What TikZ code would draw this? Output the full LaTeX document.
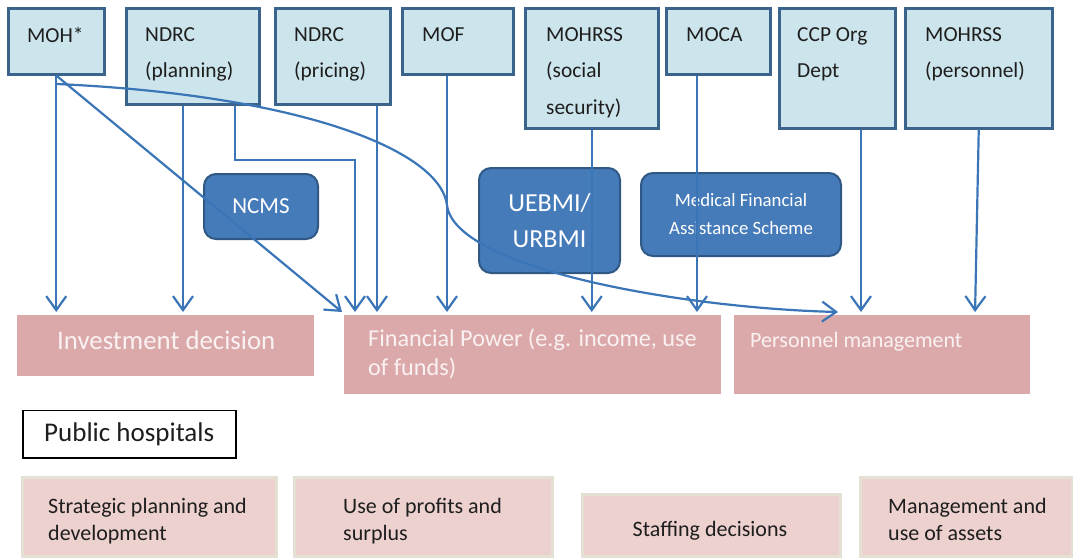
\documentclass[tikz,border=0pt]{standalone}
\usepackage{fontspec}
\setmainfont{Carlito}
\usetikzlibrary{arrows.meta,calc}
\definecolor{topfill}{RGB}{204,228,235}
\definecolor{topborder}{RGB}{59,100,140}
\definecolor{schemefill}{RGB}{70,123,186}
\definecolor{schemeborder}{RGB}{48,88,132}
\definecolor{arrowblue}{RGB}{58,117,183}
\definecolor{midpink}{RGB}{219,169,170}
\definecolor{midtext}{RGB}{250,242,242}
\definecolor{botpink}{RGB}{236,209,207}
\definecolor{botborder}{RGB}{228,224,212}
\definecolor{txtdark}{RGB}{30,30,30}
\begin{document}
\begin{tikzpicture}[x=1pt,y=-1pt,
  topbox/.style={draw=topborder,line width=2.5pt,fill=topfill,anchor=north west,inner sep=0pt},
  toptxt/.style={font=\fontsize{21.4}{36.5}\selectfont,text=txtdark,align=left,anchor=north west,inner sep=0pt},
  schemebox/.style={draw=schemeborder,line width=2pt,fill=schemefill,rounded corners=12pt,anchor=north west,inner sep=0pt,text=white,align=center},
  midbox/.style={fill=midpink,anchor=north west,inner sep=0pt},
  midtxt/.style={text=midtext,align=left,inner sep=0pt},
  botbox/.style={draw=botborder,line width=3pt,fill=botpink,anchor=north west,inner sep=0pt},
  bottxt/.style={font=\fontsize{22}{27}\selectfont,text=txtdark,align=left,inner sep=0pt},
  arr/.style={draw=arrowblue,line width=2.2pt,-{Straight Barb[length=14pt,width=20pt]}},
  arrv/.style={arr,shorten >=3pt}]
\useasboundingbox[fill=white] (0,0) rectangle (1073,558);

% top boxes
\node[topbox,minimum width=96pt,minimum height=66pt] (moh) at (7,7) {};
\node[topbox,minimum width=133pt,minimum height=96pt] (ndrcp) at (125,7) {};
\node[topbox,minimum width=115pt,minimum height=96pt] (ndrcr) at (274,7) {};
\node[topbox,minimum width=111pt,minimum height=66pt] (mof) at (401,7) {};
\node[topbox,minimum width=133pt,minimum height=120pt] (mohs) at (524,7) {};
\node[topbox,minimum width=104pt,minimum height=66pt] (moca) at (665,7) {};
\node[topbox,minimum width=116pt,minimum height=120pt] (ccp) at (778,7) {};
\node[topbox,minimum width=147pt,minimum height=120pt] (mohp) at (904,7) {};

\node[toptxt] (mohT) at (27,27) {MOH*};
\node[toptxt] (ndrcpT) at (145,27) {NDRC\\(planning)};
\node[toptxt] (ndrcrT) at (294,27) {NDRC\\(pricing)};
\node[toptxt] (mofT) at (422,27) {MOF};
\node[toptxt] (mohsT) at (546,27) {MOHRSS\\(social\\security)};
\node[toptxt] (mocaT) at (686,27) {MOCA};
\node[toptxt] (ccpT) at (797,27) {CCP Org\\Dept};
\node[toptxt] (mohpT) at (925,27) {MOHRSS\\(personnel)};

% middle boxes
\node[midbox,minimum width=297pt,minimum height=61pt] (inv) at (17,315) {};
\node[midbox,minimum width=377pt,minimum height=79pt] (fp) at (344,315) {};
\node[midbox,minimum width=296pt,minimum height=79pt] (pm) at (734,315) {};
\node[midtxt,font=\fontsize{26.8}{30}\selectfont,anchor=base west] (invT) at (57,349) {Investment decision};
\node[midtxt,font=\fontsize{24.2}{29}\selectfont,anchor=north west] (fpT) at (368,329) {Financial Power (e.g. income, use\\of funds)};
\node[midtxt,font=\fontsize{22}{27}\selectfont,anchor=base west] (pmT) at (750,347.5) {Personnel management};

% public hospitals
\node[draw=black,line width=1.5pt,fill=white,anchor=north west,inner sep=0pt,minimum width=213pt,minimum height=47.5pt,font=\fontsize{27}{30}\selectfont,text=txtdark] (ph) at (22,409.5) {Public hospitals};

% bottom boxes
\node[botbox,minimum width=254pt,minimum height=79pt] (sp) at (21,476) {};
\node[botbox,minimum width=258pt,minimum height=79pt] (up) at (293,476) {};
\node[botbox,minimum width=258pt,minimum height=62pt] (sd) at (581,493) {};
\node[botbox,minimum width=212pt,minimum height=79pt] (ma) at (859,476) {};
\node[bottxt,anchor=north west] (spT) at (48,498) {Strategic planning and\\development};
\node[bottxt,anchor=north west] (upT) at (343,498) {Use of profits and\\surplus};
\node[bottxt,anchor=base] (sdT) at (710,536) {Staffing decisions};
\node[bottxt,anchor=north west] (maT) at (888,498) {Management and\\use of assets};

% scheme boxes
\node[schemebox,minimum width=114pt,minimum height=65pt,font=\fontsize{23}{28}\selectfont] (ncms) at (203,173) {NCMS};
\node[schemebox,minimum width=141pt,minimum height=105pt,font=\fontsize{26}{36}\selectfont] (ueb) at (478,167) {UEBMI/\\URBMI};
\node[schemebox,minimum width=200pt,minimum height=83pt,font=\fontsize{18.8}{28}\selectfont] (mfa) at (640,172) {Medical Financial\\Assistance Scheme};

% helper coordinates
\coordinate (x183) at (183,0);
\coordinate (x355) at (355,0);
\coordinate (x377) at (377,0);
\coordinate (x447) at (447,0);
\coordinate (x697) at (697,0);
\coordinate (x861) at (861,0);
\coordinate (x975) at (975,0);
\coordinate (elb) at (235,160);
\coordinate (dend) at (342,312);
\coordinate (cstart) at (57,84);
\coordinate (cend) at (838,312);

% arrows
\draw[arrv] (moh.south) -- (moh.south |- inv.north);
\draw[arr] (moh.south) -- (dend);
\draw[arr] (cstart) .. controls (300,95) and (440,150) .. (447,205) .. controls (454,268) and (680,308) .. (cend);
\draw[arrv] (ndrcp.south -| x183) -- (x183 |- inv.north);
\draw[arrv] (ndrcp.south -| elb) -- (elb) -| (x355 |- fp.north);
\draw[arrv] (ndrcr.south -| x377) -- (x377 |- fp.north);
\draw[arrv] (mof.south -| x447) -- (x447 |- fp.north);
\draw[arrv] (mohs.south) -- (mohs.south |- fp.north);
\draw[arrv] (moca.south -| x697) -- (x697 |- fp.north);
\draw[arrv] (ccp.south -| x861) -- (x861 |- pm.north);
\draw[arrv] (mohp.south) -- (x975 |- pm.north);
\end{tikzpicture}
\end{document}
